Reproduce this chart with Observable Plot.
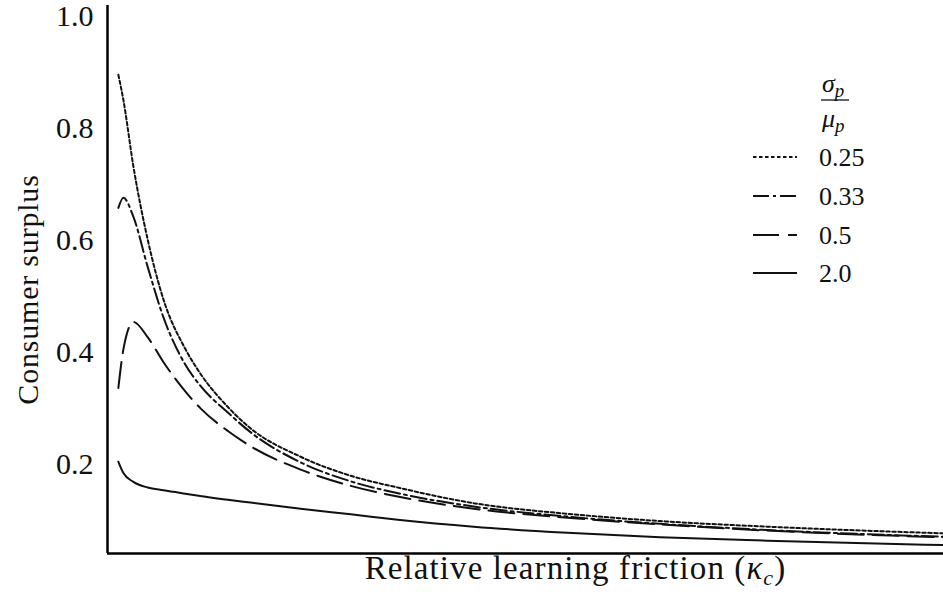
<!DOCTYPE html>
<html>
<head>
<meta charset="utf-8">
<script src="https://cdn.jsdelivr.net/npm/d3@7"></script>
<script src="https://cdn.jsdelivr.net/npm/@observablehq/plot@0.6"></script>
<style>
  html, body { margin: 0; padding: 0; background: #fff; }
  #wrap { position: relative; width: 943px; height: 609px; }
  #legend { position: absolute; left: 0; top: 0; pointer-events: none; }
</style>
</head>
<body>
<div id="wrap"></div>
<script>
// Relative learning friction (kappa_c), arbitrary units across the axis
const kappa = [0.013, 0.019, 0.031, 0.048, 0.067, 0.093, 0.111, 0.144, 0.171, 0.231, 0.291, 0.35, 0.438, 0.55, 0.661, 0.789, 1.0];
// Consumer surplus per sigma_p / mu_p
const cs025 = [0.896, 0.851, 0.732, 0.602, 0.494, 0.406, 0.362, 0.302, 0.264, 0.213, 0.179, 0.157, 0.130, 0.111, 0.098, 0.088, 0.076];
const cs033 = [0.658, 0.676, 0.642, 0.553, 0.462, 0.378, 0.340, 0.292, 0.257, 0.203, 0.169, 0.147, 0.124, 0.106, 0.093, 0.082, 0.070];
const cs050 = [0.336, 0.405, 0.454, 0.427, 0.382, 0.330, 0.300, 0.259, 0.232, 0.190, 0.161, 0.141, 0.120, 0.104, 0.092, 0.081, 0.069];
const cs200 = [0.204, 0.184, 0.168, 0.158, 0.153, 0.147, 0.143, 0.136, 0.131, 0.120, 0.110, 0.100, 0.088, 0.077, 0.069, 0.063, 0.055];
const seriesLabels = ["0.25", "0.33", "0.5", "2.0"];
const seriesValues = [cs025, cs033, cs050, cs200];
const yTicks = [0.2, 0.4, 0.6, 0.8, 1.0];
const xDomain = [0, 1];
const yDomain = [0.04, 1.02];
const xLabel = "Relative learning friction (κc)";
const yLabel = "Consumer surplus";

const dashes = ["3.5,2.5", "16,4,3,4", "26,9", null];
const ink = "#111";
const FONT = '"Liberation Serif", "Times New Roman", serif';

const rows = seriesLabels.flatMap((s, i) => kappa.map((k, j) => ({s, k, v: seriesValues[i][j]})));

const W = 943, H = 609;
const plot = Plot.plot({
  width: W,
  height: H,
  marginLeft: 107,
  marginRight: 0,
  marginTop: 5,
  marginBottom: 56,
  style: {fontFamily: FONT, fontSize: "30px", background: "#fff", color: ink},
  x: {domain: xDomain, axis: null},
  y: {domain: yDomain, axis: null},
  marks: [
    Plot.axisY({ticks: yTicks, tickSize: 0, tickPadding: 14, tickFormat: d => d.toFixed(1), label: null, fontSize: 30}),
    ...seriesLabels.map((s, i) => Plot.line(rows.filter(r => r.s === s), {
      x: "k", y: "v", stroke: ink, strokeWidth: 2, curve: "monotone-x",
      strokeDasharray: dashes[i] || undefined
    })),
    Plot.ruleX([xDomain[0]], {stroke: "#000", strokeWidth: 2.5}),
    Plot.ruleY([yDomain[0]], {stroke: "#000", strokeWidth: 2.5}),
    Plot.text([yLabel], {frameAnchor: "left", textAnchor: "middle", rotate: -90, dx: -79, dy: 10, fontSize: 30, fill: ink}),
    Plot.text([xLabel], {frameAnchor: "bottom", textAnchor: "middle", lineAnchor: "middle", dx: 50, dy: 15, fontSize: 33, fill: ink})
  ]
});
document.getElementById("wrap").appendChild(plot);

// letter spacing on the axis labels, italic kappa with subscript c in the x label
d3.select(plot).selectAll("text").filter(function() { return this.textContent === yLabel; })
  .attr("letter-spacing", "0.8");
d3.select(plot).selectAll("text").filter(function() { return this.textContent === xLabel; })
  .attr("letter-spacing", "1.1")
  .each(function() {
    const t = d3.select(this);
    t.text(null);
    t.append("tspan").text("Relative learning friction (");
    t.append("tspan").attr("font-style", "italic").text("κ");
    t.append("tspan").attr("font-style", "italic").attr("font-size", "22").attr("dy", "6").text("c");
    t.append("tspan").attr("dy", "-6").text(")");
  });

// Legend overlay
const svg = d3.select("#wrap").append("svg").attr("id", "legend").attr("width", W).attr("height", H)
  .attr("font-family", FONT);
const lx0 = 753, lx1 = 797, tx = 819;
const ys = [157, 196, 235, 273];
const title = svg.append("g").attr("fill", ink);
const t1 = title.append("text").attr("x", 822).attr("y", 92).attr("font-size", 26);
t1.append("tspan").attr("font-style", "italic").text("σ");
t1.append("tspan").attr("font-style", "italic").attr("font-size", 19).attr("dy", 5).text("p");
title.append("line").attr("x1", 821).attr("x2", 849).attr("y1", 100).attr("y2", 100).attr("stroke", ink).attr("stroke-width", 1.3);
const t2 = title.append("text").attr("x", 822).attr("y", 127).attr("font-size", 26);
t2.append("tspan").attr("font-style", "italic").text("μ");
t2.append("tspan").attr("font-style", "italic").attr("font-size", 19).attr("dy", 5).text("p");

seriesLabels.forEach((s, i) => {
  svg.append("line").attr("x1", lx0).attr("x2", lx1).attr("y1", ys[i]).attr("y2", ys[i])
    .attr("stroke", ink).attr("stroke-width", 2)
    .attr("stroke-dasharray", dashes[i] || null);
  svg.append("text").attr("x", tx).attr("y", ys[i]).attr("dy", "0.35em")
    .attr("font-size", 26).attr("fill", ink).text(s);
});
</script>
</body>
</html>
